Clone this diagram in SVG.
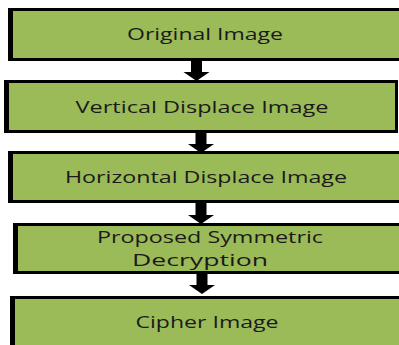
<svg xmlns="http://www.w3.org/2000/svg" width="399" height="345" viewBox="0 0 399 345">
<style>
.box{fill:#9BBB59;stroke:#000;stroke-width:3}
.edge{fill:#000;stroke:none}
text{font-family:"Open Sans","DejaVu Sans",sans-serif;font-size:17px;fill:#1a1a1a;text-anchor:middle}
</style>
<defs>
<path id="arr" d="M-5.5,0 H5.5 V12 H13 L0,21 L-13,12 H-5.5 Z"/>
</defs>
<g id="connectors">
<use href="#arr" class="edge" transform="translate(196.5,60)"/>
<use href="#arr" class="edge" transform="translate(201,132)"/>
<use href="#arr" class="edge" transform="translate(201,203)"/>
<use href="#arr" class="edge" transform="translate(202,273)"/>
</g>
<g id="n1">
<rect class="box" x="9.5" y="9.5" width="395" height="50"/>
<rect x="8" y="8" width="5" height="53" fill="#000"/>
<text x="205" y="40" textLength="156" lengthAdjust="spacingAndGlyphs">Original Image</text>
</g>
<g id="n2">
<rect class="box" x="5.5" y="81.5" width="391" height="50"/>
<rect x="4" y="80" width="5" height="53" fill="#000"/>
<text x="202" y="113" textLength="253" lengthAdjust="spacingAndGlyphs">Vertical Displace Image</text>
</g>
<g id="n3">
<rect class="box" x="9.5" y="152.5" width="395" height="49"/>
<rect x="8" y="151" width="5" height="52" fill="#000"/>
<text x="206" y="183" textLength="282" lengthAdjust="spacingAndGlyphs">Horizontal Displace Image</text>
</g>
<g id="n4">
<rect class="box" x="14.5" y="224.5" width="390" height="48"/>
<rect x="13" y="223" width="5" height="51" fill="#000"/>
<text x="210" y="243" textLength="226" lengthAdjust="spacingAndGlyphs">Proposed Symmetric</text>
<text x="200" y="266" textLength="136" lengthAdjust="spacingAndGlyphs">Decryption</text>
</g>
<g id="n5">
<rect class="box" x="11.5" y="297.5" width="395" height="60"/>
<rect x="10" y="296" width="5" height="52" fill="#000"/>
<text x="207" y="328" textLength="143" lengthAdjust="spacingAndGlyphs">Cipher Image</text>
</g>
</svg>
